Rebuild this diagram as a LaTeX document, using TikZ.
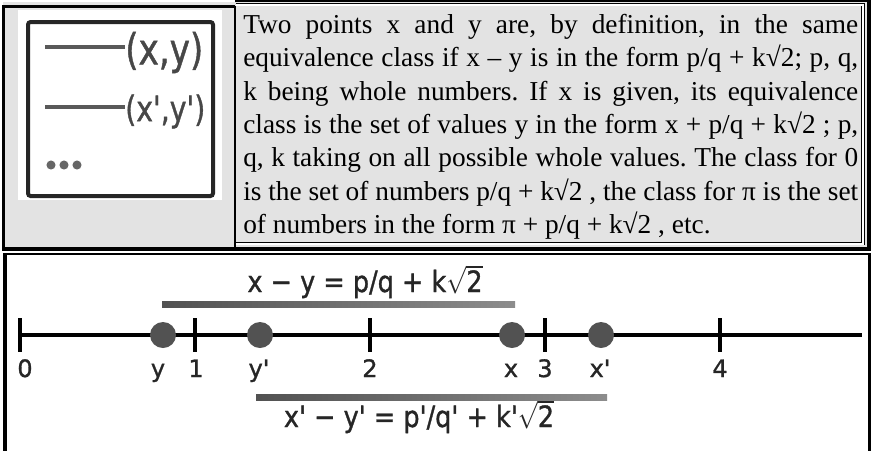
\documentclass[tikz,border=0pt]{standalone}
\usepackage{fontspec}
\setmainfont{Liberation Serif}
\newfontfamily\dvs[FakeBold=1.2]{DejaVu Sans}
\usepackage{graphicx}
\usetikzlibrary{positioning}

\begin{document}
\begin{tikzpicture}[x=0.75pt, y=-0.75pt,
  every node/.style={inner sep=0pt},
  cell/.style={fill=black!11},
  rim/.style={line width=2.4pt},
  dbl/.style={double, line width=0.55pt, double distance=1.3pt},
  tck/.style={line width=2.4pt},
  axis/.style={line width=2.4pt},
  lnk/.style={line width=2.4pt, black!65},
  lbl/.style={font=\dvs\fontsize{18}{18}\selectfont, text=black!85, anchor=base},
  pt/.style={circle, fill=black!68, minimum size=19.5pt},
  eqn/.style={font=\dvs\fontsize{22}{22}\selectfont, text=black!85, anchor=base},
  pair/.style={font=\dvs, text=black!72, anchor=west}
]
\useasboundingbox[fill=white] (0,0) rectangle (873,451);

%% top panel
\fill[cell] (3,2) rectangle (868,247);
\fill[white] (18,10) rectangle (222,200);
\draw[rim] (3.5,248) |- (235,6.5);
\draw[line width=1.5pt] (235,1) -- (869,1);
\draw[dbl] (236,4.8) -| (863,243.8) -- (236,243.8);
\draw[line width=3pt] (869,0) -- (869,250);
\draw[line width=3pt] (2,248.5) -- (871,248.5);
\draw[line width=1.5pt] (235,6) -- (235,248);

%% small picture in the left cell
\draw[line width=3pt, black!85, rounded corners=2pt] (28,22) rectangle (213,196);
\node[pair] (xy)  at (125,52.5)  {\resizebox*{58.5pt}{31pt}{(x,y)}};
\node[pair] (xyp) at (125,111.5) {\resizebox*{60pt}{25.5pt}{(x',y')}};
\coordinate (a1) at (45,47);
\coordinate (a2) at (45,107);
\draw[lnk] (a1) -- (a1 -| xy.west);
\draw[lnk] (a2) -- (a2 -| xyp.west);
\foreach \i in {0,1,2}
  \fill[black!60] (51+13*\i,165) circle (3.4pt);

%% text
\node[anchor=north west, text width=461.25pt, align=justify,
      font=\fontsize{20.5}{25}\selectfont\frenchspacing] (desc) at (243,14) {%
Two points x and y are, by definition, in the same\linebreak
equivalence class if x – y is in the form p/q + k√2; p, q,\linebreak
k being whole numbers. If x is given, its equivalence\linebreak
class is the set of values y in the form x + p/q + k√2 ; p,\linebreak
q, k taking on all possible whole values. The class for 0\linebreak
is the set of numbers p/q + k√2 , the class for π is the set\linebreak
of numbers in the form π + p/q + k√2 , etc.};

%% bottom panel
\draw[line width=1.8pt] (4,253.8) -- (871,253.8);
\draw[line width=3pt] (5.3,253) -- (5.3,451);
\draw[line width=2.5pt] (869.8,253) -- (869.8,451);

%% number line
\coordinate (a0) at (20,335);
\coordinate (aend) at (862,335);
\draw[axis] (a0) -- (aend);
\foreach \n/\xx in {0/20,1/195,2/370,3/545,4/720}
  \draw[tck] (\xx,318) -- (\xx,352);
\foreach \n/\xx in {0/25,1/196,2/370,3/545,4/720}
  \node[lbl] (n\n) at (\xx,377) {\n};

%% points
\foreach \nm/\xx/\lx/\tx in {y/163/158/y, yp/260/259/y', x/512/511/x, xp/601/600/x'}{
  \node[pt] (p\nm) at (\xx,335) {};
  \node[lbl] (l\nm) at (\lx,377) {\tx};
}

%% differences
\shade[left color=black!68, right color=black!45] (162,301.5) rectangle (515,307.5);
\shade[left color=black!68, right color=black!45] (256,394.5) rectangle (607,400.5);
\node[eqn] (eq1) at (365,292) {\scalebox{0.87}[1]{x − y = p/q + k$\sqrt{\mbox{2}}$}};
\node[eqn] (eq2) at (419,427) {\scalebox{0.87}[1]{x' − y' = p'/q' + k'$\sqrt{\mbox{2}}$}};
\end{tikzpicture}
\end{document}
